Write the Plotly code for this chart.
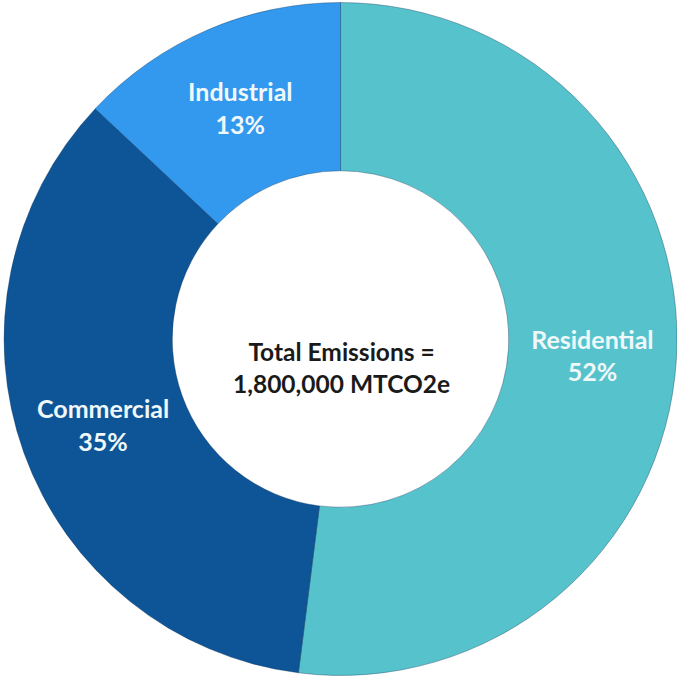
import plotly.graph_objects as go

labels = ["Residential", "Commercial", "Industrial"]
values = [52, 35, 13]
colors = ["#56C3CC", "#0E5597", "#3399EE"]
center_lines = ["Total Emissions =", "1,800,000 MTCO2e"]

fig = go.Figure(go.Pie(
    labels=labels,
    values=values,
    hole=0.5,
    sort=False,
    direction="clockwise",
    rotation=0,
    marker=dict(colors=colors, line=dict(color="rgba(0,40,80,0.35)", width=1)),
    texttemplate="<b>%{label}</b><br><b>%{value}%</b>",
    textposition="inside",
    insidetextorientation="horizontal",
    textfont=dict(family="Lato, Open Sans, sans-serif", size=25, color="#F0F8FA"),
    showlegend=False,
    hoverinfo="label+percent",
    domain=dict(x=[0.006, 1.0], y=[0.0, 1.0]),
))

fig.add_annotation(
    x=0.504, y=0.5, xref="paper", yref="paper",
    text="<b>" + "<br>".join(center_lines) + "</b>",
    showarrow=False,
    yshift=-28,
    font=dict(family="Lato, Open Sans, sans-serif", size=24.5, color="#1a1a1a"),
    align="center",
)

fig.update_layout(
    width=677, height=678,
    margin=dict(l=0, r=0, t=0, b=0),
    paper_bgcolor="white",
    plot_bgcolor="white",
)

fig.write_html("out.html")
